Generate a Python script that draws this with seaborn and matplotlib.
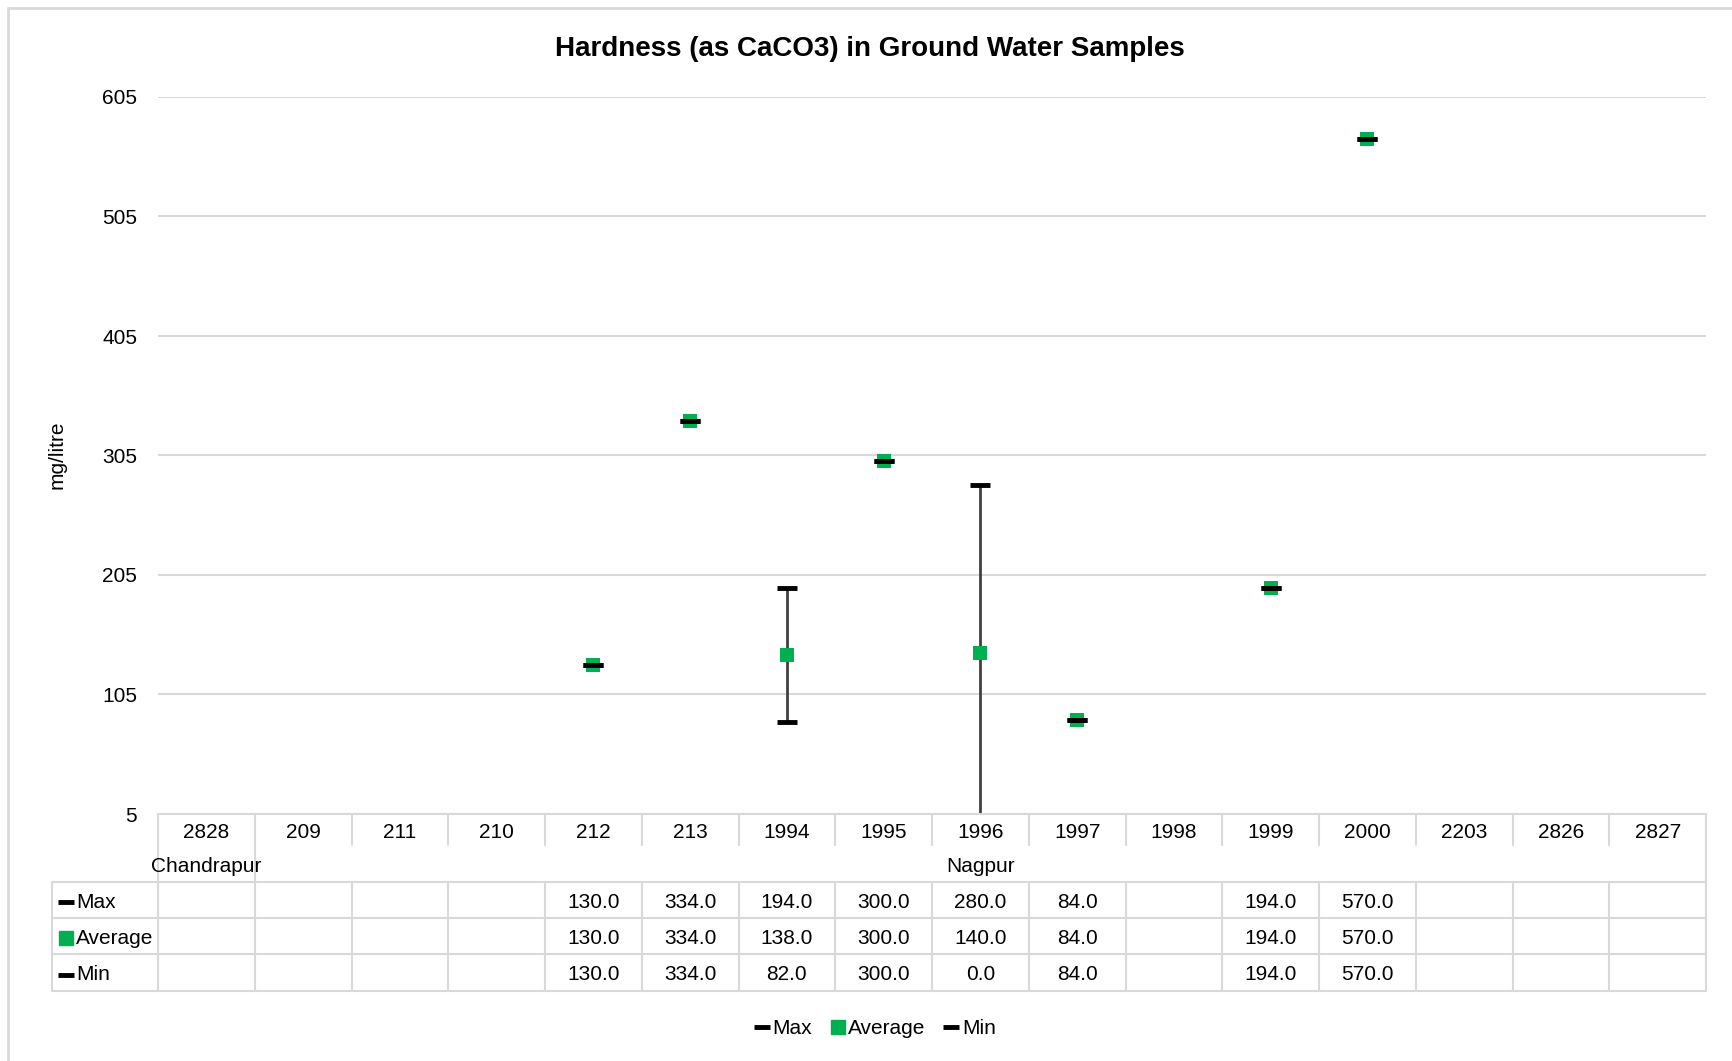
import matplotlib
matplotlib.use("Agg")
import matplotlib.pyplot as plt
from matplotlib.lines import Line2D
import seaborn as sns
import numpy as np
import pandas as pd

# data
stations = ["2828", "209", "211", "210", "212", "213", "1994", "1995",
            "1996", "1997", "1998", "1999", "2000", "2203", "2826", "2827"]
districts = ["Chandrapur", "Nagpur"]
district_sizes = [1, 15]
max_vals = [np.nan, np.nan, np.nan, np.nan, 130.0, 334.0, 194.0, 300.0,
            280.0, 84.0, np.nan, 194.0, 570.0, np.nan, np.nan, np.nan]
avg_vals = [np.nan, np.nan, np.nan, np.nan, 130.0, 334.0, 138.0, 300.0,
            140.0, 84.0, np.nan, 194.0, 570.0, np.nan, np.nan, np.nan]
min_vals = [np.nan, np.nan, np.nan, np.nan, 130.0, 334.0, 82.0, 300.0,
            0.0, 84.0, np.nan, 194.0, 570.0, np.nan, np.nan, np.nan]
y_ticks = [5, 105, 205, 305, 405, 505, 605]

sns.set_style("white")
plt.rcParams["font.family"] = ["Liberation Sans Narrow", "Liberation Sans", "DejaVu Sans"]
plt.rcParams["text.color"] = "black"
plt.rcParams["ytick.labelcolor"] = "black"

GREEN = "#00B050"
GRID = "#D9D9D9"
FS = 15

W, H = 1732, 1061
fig = plt.figure(figsize=(W / 100, H / 100), dpi=100)


def box(l, t, r, b):
    return [l / W, 1 - b / H, (r - l) / W, (b - t) / H]


df = pd.DataFrame({"pos": np.arange(len(stations)), "station": stations,
                   "Max": max_vals, "Average": avg_vals, "Min": min_vals})

# ---- main plot area
ax = fig.add_axes(box(158, 97, 1706, 814))
ax.vlines(df["pos"], df["Min"], df["Max"], color="#404040", lw=2, zorder=2)
sns.scatterplot(data=df, x="pos", y="Average", marker="s", s=105, color=GREEN,
                linewidth=0, ax=ax, zorder=3, legend=False)
for col in ["Max", "Min"]:
    ax.plot(df["pos"], df[col], ls="", marker="_", ms=14, mew=3.5, color="black", zorder=4)

ax.set_xlim(-0.5, len(stations) - 0.5)
ax.set_ylim(y_ticks[0], y_ticks[-1])
ax.set_yticks(y_ticks)
ax.set_xticks([])
ax.set_xlabel("")
ax.set_ylabel("")
ax.grid(axis="y", color=GRID, lw=1.5)
ax.tick_params(axis="y", length=0, pad=15, labelsize=FS, labelcolor="black")
for sp in ax.spines.values():
    sp.set_visible(False)

fig.text(870 / W, 1 - 49 / H, "Hardness (as CaCO3) in Ground Water Samples",
         ha="center", va="center", fontsize=20, fontweight="bold")
fig.text(57 / W, 1 - 455 / H, "mg/litre", rotation=90, ha="center", va="center", fontsize=FS)

# ---- data table under the plot
col_w = (1706 - 158) / len(stations)
left_x = -0.5 - (158 - 52) / col_w
right_x = len(stations) - 0.5
axt = fig.add_axes(box(52, 814, 1706, 991))
axt.set_xlim(left_x, right_x)
axt.set_ylim(991, 814)
axt.axis("off")

rows = [814, 848, 882, 918, 954, 991]  # row edges, px from top
lk = dict(color=GRID, lw=1.5, clip_on=False)
axt.plot([-0.5, right_x], [rows[0], rows[0]], **lk)
for r in rows[2:]:
    axt.plot([left_x, right_x], [r, r], **lk)
for i in range(len(stations) + 1):
    x = i - 0.5
    axt.plot([x, x], [rows[0], rows[1] - 3], **lk)
    axt.plot([x, x], [rows[2], rows[5]], **lk)
# district boundaries through the group row
edges = np.concatenate([[0], np.cumsum(district_sizes)])
for e in edges:
    axt.plot([e - 0.5, e - 0.5], [rows[1] - 3, rows[2]], **lk)
axt.plot([left_x, left_x], [rows[2], rows[5]], **lk)

for i, s in enumerate(stations):
    axt.text(i, (rows[0] + rows[1]) / 2 + 2, s, ha="center", va="center", fontsize=FS)
for name, a, b in zip(districts, edges[:-1], edges[1:]):
    axt.text((a + b - 1) / 2, (rows[1] + rows[2]) / 2 + 2, name, ha="center", va="center", fontsize=FS)

series = [("Max", max_vals), ("Average", avg_vals), ("Min", min_vals)]
for k, (name, vals) in enumerate(series):
    yc = (rows[2 + k] + rows[3 + k]) / 2 + 2
    kx = left_x + (66 - 52) / col_w
    if name == "Average":
        axt.plot([kx], [yc], ls="", marker="s", ms=10, color=GREEN, clip_on=False)
    else:
        axt.plot([kx], [yc], ls="", marker="_", ms=12, mew=3.5, color="black", clip_on=False)
    axt.text(left_x + (76 - 52) / col_w, yc, name, ha="left", va="center", fontsize=FS)
    for i, v in enumerate(vals):
        if not np.isnan(v):
            axt.text(i, yc, f"{v:.1f}", ha="center", va="center", fontsize=FS)

# ---- legend
handles = [
    Line2D([], [], ls="", marker="_", ms=12, mew=3.5, color="black"),
    Line2D([], [], ls="", marker="s", ms=10, color=GREEN),
    Line2D([], [], ls="", marker="_", ms=12, mew=3.5, color="black"),
]
fig.legend(handles, ["Max", "Average", "Min"], loc="center",
           bbox_to_anchor=(875 / W, 1 - 1029 / H), ncol=3, frameon=False,
           fontsize=FS, handlelength=0.7, handletextpad=0.15, columnspacing=0.9)

# chart border (top and left edges visible)
fig.add_artist(Line2D([8 / W, 1], [1 - 8 / H, 1 - 8 / H], color=GRID, lw=2))
fig.add_artist(Line2D([8 / W, 8 / W], [0, 1 - 8 / H], color=GRID, lw=2))

fig.savefig("out.png", dpi=100, facecolor="white")
